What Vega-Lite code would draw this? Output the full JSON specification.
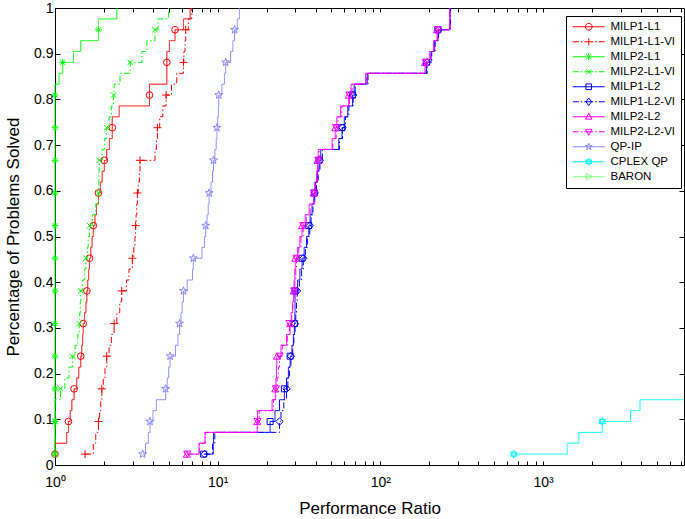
{
  "$schema": "https://vega.github.io/schema/vega-lite/v6.json",
  "width": 629,
  "height": 457,
  "autosize": {"type": "none"},
  "padding": {"left": 55, "top": 8, "right": 1, "bottom": 54},
  "background": "white",
  "config": {
    "view": {"stroke": null},
    "font": "Liberation Sans",
    "axis": {"grid": false, "domainColor": "black", "tickColor": "black", "labelColor": "black", "titleColor": "black", "labelFont": "Liberation Sans", "titleFont": "Liberation Sans", "labelFontSize": 14, "titleFontSize": 17, "titleFontWeight": "normal", "domainWidth": 1, "tickWidth": 1}
  },
  "data": {"values": [
    {"n":1,"p":0.0238,"MILP1-L1":1,"MILP1-L1-VI":1.53,"MILP2-L1":1,"MILP2-L1-VI":1,"MILP1-L2":8.2,"MILP1-L2-VI":8.3,"MILP2-L2":6.46,"MILP2-L2-VI":6.5,"QP-IP":3.46,"CPLEX QP":661},
    {"n":2,"p":0.0476,"MILP1-L1":1,"MILP1-L1-VI":1.72,"MILP2-L1":1,"MILP2-L1-VI":1,"MILP1-L2":9.4,"MILP1-L2-VI":9.3,"MILP2-L2":7.68,"MILP2-L2-VI":7.7,"QP-IP":3.6,"CPLEX QP":1408},
    {"n":3,"p":0.0714,"MILP1-L1":1.18,"MILP1-L1-VI":1.78,"MILP2-L1":1,"MILP2-L1-VI":1,"MILP1-L2":9.42,"MILP1-L2-VI":9.6,"MILP2-L2":8.35,"MILP2-L2-VI":8.4,"QP-IP":3.75,"CPLEX QP":1660},
    {"n":4,"p":0.0952,"MILP1-L1":1.21,"MILP1-L1-VI":1.85,"MILP2-L1":1,"MILP2-L1-VI":1,"MILP1-L2":21,"MILP1-L2-VI":24,"MILP2-L2":17.5,"MILP2-L2-VI":17.6,"QP-IP":3.84,"CPLEX QP":2312},
    {"n":5,"p":0.119,"MILP1-L1":1.24,"MILP1-L1-VI":1.88,"MILP2-L1":1,"MILP2-L1-VI":1,"MILP1-L2":22.5,"MILP1-L2-VI":24.5,"MILP2-L2":17.6,"MILP2-L2-VI":18,"QP-IP":4.0,"CPLEX QP":3450},
    {"n":6,"p":0.1429,"MILP1-L1":1.27,"MILP1-L1-VI":1.91,"MILP2-L1":1,"MILP2-L1-VI":1,"MILP1-L2":24,"MILP1-L2-VI":25.5,"MILP2-L2":21.6,"MILP2-L2-VI":22,"QP-IP":4.2,"CPLEX QP":3944},
    {"n":6,"p":0.1429,"CPLEX QP":7350},
    {"n":7,"p":0.1667,"MILP1-L1":1.31,"MILP1-L1-VI":1.94,"MILP2-L1":1,"MILP2-L1-VI":1.08,"MILP1-L2":25.7,"MILP1-L2-VI":26.5,"MILP2-L2":22.6,"MILP2-L2-VI":22.8,"QP-IP":4.79},
    {"n":8,"p":0.1905,"MILP1-L1":1.36,"MILP1-L1-VI":1.98,"MILP2-L1":1,"MILP2-L1-VI":1.15,"MILP1-L2":26.5,"MILP1-L2-VI":27,"MILP2-L2":22.8,"MILP2-L2-VI":23.2,"QP-IP":4.9},
    {"n":9,"p":0.2143,"MILP1-L1":1.4,"MILP1-L1-VI":2.03,"MILP2-L1":1,"MILP2-L1-VI":1.22,"MILP1-L2":27.2,"MILP1-L2-VI":27.6,"MILP2-L2":23,"MILP2-L2-VI":23.6,"QP-IP":5.0},
    {"n":10,"p":0.2381,"MILP1-L1":1.44,"MILP1-L1-VI":2.08,"MILP2-L1":1,"MILP2-L1-VI":1.28,"MILP1-L2":27.9,"MILP1-L2-VI":28.2,"MILP2-L2":23.1,"MILP2-L2-VI":24,"QP-IP":5.1},
    {"n":11,"p":0.2619,"MILP1-L1":1.46,"MILP1-L1-VI":2.15,"MILP2-L1":1,"MILP2-L1-VI":1.33,"MILP1-L2":28.6,"MILP1-L2-VI":28.9,"MILP2-L2":24.5,"MILP2-L2-VI":25,"QP-IP":5.5},
    {"n":12,"p":0.2857,"MILP1-L1":1.48,"MILP1-L1-VI":2.22,"MILP2-L1":1,"MILP2-L1-VI":1.38,"MILP1-L2":29.2,"MILP1-L2-VI":29.4,"MILP2-L2":26.5,"MILP2-L2-VI":26.8,"QP-IP":5.7},
    {"n":13,"p":0.3095,"MILP1-L1":1.49,"MILP1-L1-VI":2.31,"MILP2-L1":1,"MILP2-L1-VI":1.41,"MILP1-L2":29.6,"MILP1-L2-VI":29.9,"MILP2-L2":27.9,"MILP2-L2-VI":27.6,"QP-IP":5.83},
    {"n":14,"p":0.3333,"MILP1-L1":1.52,"MILP1-L1-VI":2.4,"MILP2-L1":1,"MILP2-L1-VI":1.42,"MILP1-L2":29.8,"MILP1-L2-VI":30.2,"MILP2-L2":28.3,"MILP2-L2-VI":28.5,"QP-IP":5.95},
    {"n":15,"p":0.3571,"MILP1-L1":1.55,"MILP1-L1-VI":2.5,"MILP2-L1":1,"MILP2-L1-VI":1.43,"MILP1-L2":29.9,"MILP1-L2-VI":30.5,"MILP2-L2":28.8,"MILP2-L2-VI":29,"QP-IP":6.05},
    {"n":16,"p":0.381,"MILP1-L1":1.57,"MILP1-L1-VI":2.57,"MILP2-L1":1,"MILP2-L1-VI":1.44,"MILP1-L2":29.9,"MILP1-L2-VI":30.8,"MILP2-L2":29.3,"MILP2-L2-VI":29.5,"QP-IP":6.16},
    {"n":17,"p":0.4048,"MILP1-L1":1.59,"MILP1-L1-VI":2.75,"MILP2-L1":1,"MILP2-L1-VI":1.48,"MILP1-L2":31,"MILP1-L2-VI":31.8,"MILP2-L2":29.5,"MILP2-L2-VI":29.8,"QP-IP":6.5},
    {"n":18,"p":0.4286,"MILP1-L1":1.61,"MILP1-L1-VI":2.85,"MILP2-L1":1,"MILP2-L1-VI":1.52,"MILP1-L2":32,"MILP1-L2-VI":32.8,"MILP2-L2":29.8,"MILP2-L2-VI":30.2,"QP-IP":7.0},
    {"n":19,"p":0.4524,"MILP1-L1":1.63,"MILP1-L1-VI":2.99,"MILP2-L1":1,"MILP2-L1-VI":1.55,"MILP1-L2":33,"MILP1-L2-VI":33.6,"MILP2-L2":30,"MILP2-L2-VI":30.5,"QP-IP":7.09},
    {"n":20,"p":0.4762,"MILP1-L1":1.66,"MILP1-L1-VI":3.05,"MILP2-L1":1,"MILP2-L1-VI":1.58,"MILP1-L2":34,"MILP1-L2-VI":34.6,"MILP2-L2":31,"MILP2-L2-VI":31.5,"QP-IP":8.0},
    {"n":21,"p":0.5,"MILP1-L1":1.69,"MILP1-L1-VI":3.1,"MILP2-L1":1,"MILP2-L1-VI":1.6,"MILP1-L2":35.2,"MILP1-L2-VI":35.6,"MILP2-L2":32,"MILP2-L2-VI":32.5,"QP-IP":8.3},
    {"n":22,"p":0.5238,"MILP1-L1":1.72,"MILP1-L1-VI":3.13,"MILP2-L1":1,"MILP2-L1-VI":1.63,"MILP1-L2":36.3,"MILP1-L2-VI":36.8,"MILP2-L2":33,"MILP2-L2-VI":33.5,"QP-IP":8.44},
    {"n":23,"p":0.5476,"MILP1-L1":1.76,"MILP1-L1-VI":3.15,"MILP2-L1":1,"MILP2-L1-VI":1.7,"MILP1-L2":37,"MILP1-L2-VI":37.5,"MILP2-L2":34.5,"MILP2-L2-VI":35,"QP-IP":8.6},
    {"n":24,"p":0.5714,"MILP1-L1":1.8,"MILP1-L1-VI":3.18,"MILP2-L1":1,"MILP2-L1-VI":1.78,"MILP1-L2":38,"MILP1-L2-VI":38.5,"MILP2-L2":36.5,"MILP2-L2-VI":37,"QP-IP":8.75},
    {"n":25,"p":0.5952,"MILP1-L1":1.85,"MILP1-L1-VI":3.21,"MILP2-L1":1,"MILP2-L1-VI":1.85,"MILP1-L2":39.2,"MILP1-L2-VI":39.5,"MILP2-L2":38.9,"MILP2-L2-VI":39.2,"QP-IP":8.86},
    {"n":26,"p":0.619,"MILP1-L1":1.9,"MILP1-L1-VI":3.25,"MILP2-L1":1,"MILP2-L1-VI":1.86,"MILP1-L2":40,"MILP1-L2-VI":40.5,"MILP2-L2":39.5,"MILP2-L2-VI":40,"QP-IP":9.1},
    {"n":27,"p":0.6429,"MILP1-L1":1.95,"MILP1-L1-VI":3.3,"MILP2-L1":1,"MILP2-L1-VI":1.86,"MILP1-L2":41,"MILP1-L2-VI":41.5,"MILP2-L2":40.5,"MILP2-L2-VI":41,"QP-IP":9.3},
    {"n":28,"p":0.6667,"MILP1-L1":2.01,"MILP1-L1-VI":3.33,"MILP2-L1":1,"MILP2-L1-VI":1.87,"MILP1-L2":42,"MILP1-L2-VI":42.5,"MILP2-L2":41.1,"MILP2-L2-VI":41.5,"QP-IP":9.43},
    {"n":29,"p":0.6905,"MILP1-L1":2.08,"MILP1-L1-VI":4.12,"MILP2-L1":1,"MILP2-L1-VI":1.95,"MILP1-L2":43,"MILP1-L2-VI":44,"MILP2-L2":41.5,"MILP2-L2-VI":42,"QP-IP":9.6},
    {"n":30,"p":0.7143,"MILP1-L1":2.16,"MILP1-L1-VI":4.2,"MILP2-L1":1,"MILP2-L1-VI":2.02,"MILP1-L2":55.5,"MILP1-L2-VI":56,"MILP2-L2":50.5,"MILP2-L2-VI":51,"QP-IP":9.8},
    {"n":31,"p":0.7381,"MILP1-L1":2.25,"MILP1-L1-VI":4.26,"MILP2-L1":1,"MILP2-L1-VI":2.08,"MILP1-L2":58.1,"MILP1-L2-VI":58.5,"MILP2-L2":52.8,"MILP2-L2-VI":53.5,"QP-IP":9.9},
    {"n":32,"p":0.7619,"MILP1-L1":2.25,"MILP1-L1-VI":4.4,"MILP2-L1":1,"MILP2-L1-VI":2.15,"MILP1-L2":60,"MILP1-L2-VI":61,"MILP2-L2":54,"MILP2-L2-VI":55,"QP-IP":10.0},
    {"n":33,"p":0.7857,"MILP1-L1":2.48,"MILP1-L1-VI":4.6,"MILP2-L1":1,"MILP2-L1-VI":2.22,"MILP1-L2":63,"MILP1-L2-VI":64,"MILP2-L2":57,"MILP2-L2-VI":58,"QP-IP":10.1},
    {"n":34,"p":0.8095,"MILP1-L1":3.81,"MILP1-L1-VI":4.82,"MILP2-L1":1,"MILP2-L1-VI":2.29,"MILP1-L2":67.5,"MILP1-L2-VI":68,"MILP2-L2":63.9,"MILP2-L2-VI":64.5,"QP-IP":10.15},
    {"n":35,"p":0.8333,"MILP1-L1":3.81,"MILP1-L1-VI":5.2,"MILP2-L1":1,"MILP2-L1-VI":2.31,"MILP1-L2":69,"MILP1-L2-VI":70,"MILP2-L2":66,"MILP2-L2-VI":67,"QP-IP":10.6},
    {"n":36,"p":0.8571,"MILP1-L1":4.87,"MILP1-L1-VI":5.6,"MILP2-L1":1.06,"MILP2-L1-VI":2.51,"MILP1-L2":83,"MILP1-L2-VI":84,"MILP2-L2":81.2,"MILP2-L2-VI":82,"QP-IP":11.0},
    {"n":37,"p":0.881,"MILP1-L1":4.87,"MILP1-L1-VI":6.16,"MILP2-L1":1.115,"MILP2-L1-VI":2.9,"MILP1-L2":192,"MILP1-L2-VI":194,"MILP2-L2":188,"MILP2-L2-VI":190,"QP-IP":11.2},
    {"n":38,"p":0.9048,"MILP1-L1":4.87,"MILP1-L1-VI":6.2,"MILP2-L1":1.3,"MILP2-L1-VI":3.42,"MILP1-L2":205,"MILP1-L2-VI":207,"MILP2-L2":200,"MILP2-L2-VI":203,"QP-IP":12.0},
    {"n":39,"p":0.9286,"MILP1-L1":5.05,"MILP1-L1-VI":6.3,"MILP2-L1":1.44,"MILP2-L1-VI":3.67,"MILP1-L2":215,"MILP1-L2-VI":217,"MILP2-L2":212,"MILP2-L2-VI":214,"QP-IP":12.4},
    {"n":40,"p":0.9524,"MILP1-L1":5.47,"MILP1-L1-VI":6.36,"MILP2-L1":1.85,"MILP2-L1-VI":4.12,"MILP1-L2":226,"MILP1-L2-VI":228,"MILP2-L2":223,"MILP2-L2-VI":225,"QP-IP":12.7},
    {"n":41,"p":0.9762,"MILP1-L1":6.16,"MILP1-L1-VI":6.6,"MILP2-L1":1.85,"MILP2-L1-VI":4.3,"MILP1-L2":268,"MILP1-L2-VI":270,"MILP2-L2":266,"MILP2-L2-VI":268,"QP-IP":13.2},
    {"n":42,"p":1,"MILP1-L1":6.77,"MILP1-L1-VI":6.93,"MILP2-L1":2.4,"MILP2-L1-VI":4.98,"MILP1-L2":268,"MILP1-L2-VI":270,"MILP2-L2":266,"MILP2-L2-VI":268,"QP-IP":13.6}
  ]},
  "transform": [
    {"fold": ["MILP1-L1","MILP1-L1-VI","MILP2-L1","MILP2-L1-VI","MILP1-L2","MILP1-L2-VI","MILP2-L2","MILP2-L2-VI","QP-IP","CPLEX QP"], "as": ["s", "r"]},
    {"filter": "isValid(datum.r)"}
  ],
  "layer": [
    {
      "mark": {"type": "line", "interpolate": "step-after", "strokeWidth": 1, "clip": false},
      "encoding": {
        "x": {"field": "r", "type": "quantitative", "scale": {"type": "log", "domain": [1, 7350], "nice": false},
          "axis": {"orient": "bottom", "title": "Performance Ratio", "values": [1,2,3,4,5,6,7,8,9,10,20,30,40,50,60,70,80,90,100,200,300,400,500,600,700,800,900,1000,2000,3000,4000,5000,6000,7000],
            "labelExpr": "datum.value==1?'10⁰':datum.value==10?'10¹':datum.value==100?'10²':datum.value==1000?'10³':''",
            "tickSize": -4,
            "labelFlush": false, "labelOverlap": false, "labelBound": false, "labelPadding": 14, "titlePadding": 11}},
        "y": {"field": "p", "type": "quantitative", "scale": {"domain": [0, 1], "nice": false},
          "axis": {"orient": "left", "title": "Percentage of Problems Solved", "values": [0,0.1,0.2,0.3,0.4,0.5,0.6,0.7,0.8,0.9,1], "format": "~g", "tickSize": -5, "labelPadding": 7, "titlePadding": 11}},
        "stroke": {"field": "s", "type": "nominal", "legend": null,
          "scale": {"domain": ["MILP1-L1","MILP1-L1-VI","MILP2-L1","MILP2-L1-VI","MILP1-L2","MILP1-L2-VI","MILP2-L2","MILP2-L2-VI","QP-IP","CPLEX QP"],
            "range": ["#ff0000","#ff0000","#00ff00","#00ff00","#0000ff","#0000ff","#ff00ff","#ff00ff","#8888ff","#00ffff"]}},
        "strokeDash": {"field": "s", "type": "nominal", "legend": null,
          "scale": {"domain": ["MILP1-L1","MILP1-L1-VI","MILP2-L1","MILP2-L1-VI","MILP1-L2","MILP1-L2-VI","MILP2-L2","MILP2-L2-VI","QP-IP","CPLEX QP"],
            "range": [[1,0],[6,2.5,1.5,2.5],[1,0],[6,2.5,1.5,2.5],[1,0],[6,2.5,1.5,2.5],[1,0],[6,2.5,1.5,2.5],[1,0],[1,0]]}},
        "order": {"field": "n", "type": "quantitative"}
      }
    },
    {"transform": [{"filter": "datum.s=='MILP1-L1' && datum.n%3==1"}], "mark": {"type": "point", "shape": "circle", "color": "#ff0000", "filled": false, "size": 45, "strokeWidth": 1, "opacity": 1, "clip": false},
      "encoding": {"x": {"field": "r", "type": "quantitative", "axis": null}, "y": {"field": "p", "type": "quantitative", "axis": null}}},
    {"transform": [{"filter": "datum.s=='MILP1-L1-VI' && datum.n%3==1"}], "mark": {"type": "point", "shape": "M-1,0H1M0,-1V1", "color": "#ff0000", "filled": false, "size": 64, "strokeWidth": 1, "opacity": 1, "clip": false},
      "encoding": {"x": {"field": "r", "type": "quantitative", "axis": null}, "y": {"field": "p", "type": "quantitative", "axis": null}}},
    {"transform": [{"filter": "datum.s=='MILP2-L1' && datum.n%3==1"}], "mark": {"type": "point", "shape": "M-1,0H1M0,-1V1M-0.7,-0.7L0.7,0.7M-0.7,0.7L0.7,-0.7", "color": "#00ff00", "filled": false, "size": 50, "strokeWidth": 1, "opacity": 1, "clip": false},
      "encoding": {"x": {"field": "r", "type": "quantitative", "axis": null}, "y": {"field": "p", "type": "quantitative", "axis": null}}},
    {"transform": [{"filter": "datum.s=='MILP2-L1-VI' && datum.n%3==1"}], "mark": {"type": "point", "shape": "M-0.7,-0.7L0.7,0.7M-0.7,0.7L0.7,-0.7", "color": "#00ff00", "filled": false, "size": 64, "strokeWidth": 1, "opacity": 1, "clip": false},
      "encoding": {"x": {"field": "r", "type": "quantitative", "axis": null}, "y": {"field": "p", "type": "quantitative", "axis": null}}},
    {"transform": [{"filter": "datum.s=='MILP1-L2' && datum.n%3==1"}], "mark": {"type": "point", "shape": "square", "color": "#0000ff", "filled": false, "size": 36, "strokeWidth": 1, "opacity": 1, "clip": false},
      "encoding": {"x": {"field": "r", "type": "quantitative", "axis": null}, "y": {"field": "p", "type": "quantitative", "axis": null}}},
    {"transform": [{"filter": "datum.s=='MILP1-L2-VI' && datum.n%3==1"}], "mark": {"type": "point", "shape": "diamond", "color": "#0000ff", "filled": false, "size": 55, "strokeWidth": 1, "opacity": 1, "clip": false},
      "encoding": {"x": {"field": "r", "type": "quantitative", "axis": null}, "y": {"field": "p", "type": "quantitative", "axis": null}}},
    {"transform": [{"filter": "datum.s=='MILP2-L2' && datum.n%3==1"}], "mark": {"type": "point", "shape": "triangle-up", "color": "#ff00ff", "filled": false, "size": 50, "strokeWidth": 1, "opacity": 1, "clip": false},
      "encoding": {"x": {"field": "r", "type": "quantitative", "axis": null}, "y": {"field": "p", "type": "quantitative", "axis": null}}},
    {"transform": [{"filter": "datum.s=='MILP2-L2-VI' && datum.n%3==1"}], "mark": {"type": "point", "shape": "triangle-down", "color": "#ff00ff", "filled": false, "size": 50, "strokeWidth": 1, "opacity": 1, "clip": false},
      "encoding": {"x": {"field": "r", "type": "quantitative", "axis": null}, "y": {"field": "p", "type": "quantitative", "axis": null}}},
    {"transform": [{"filter": "datum.s=='QP-IP' && datum.n%3==1"}], "mark": {"type": "point", "shape": "M0,-1L0.235,-0.324L0.951,-0.309L0.38,0.124L0.588,0.809L0,0.4L-0.588,0.809L-0.38,0.124L-0.951,-0.309L-0.235,-0.324Z", "color": "#8888ff", "filled": false, "size": 70, "strokeWidth": 1, "opacity": 1, "clip": false},
      "encoding": {"x": {"field": "r", "type": "quantitative", "axis": null}, "y": {"field": "p", "type": "quantitative", "axis": null}}},
    {"transform": [{"filter": "datum.s=='CPLEX QP' && datum.n%3==1 && datum.r<7000"}], "mark": {"type": "point", "shape": "M0,-1L0.866,0.5H-0.866ZM0,1L0.866,-0.5H-0.866Z", "color": "#00ffff", "filled": false, "size": 60, "strokeWidth": 1, "opacity": 1, "clip": false},
      "encoding": {"x": {"field": "r", "type": "quantitative", "axis": null}, "y": {"field": "p", "type": "quantitative", "axis": null}}},
    {
      "transform": [{"filter": "false"}],
      "mark": {"type": "point", "filled": false, "strokeWidth": 1, "opacity": 1},
      "encoding": {
        "x": {"field": "r", "type": "quantitative", "axis": {"orient": "top", "title": null, "labels": false, "values": [1,2,3,4,5,6,7,8,9,10,20,30,40,50,60,70,80,90,100,200,300,400,500,600,700,800,900,1000,2000,3000,4000,5000,6000,7000], "tickSize": -4}},
        "y": {"field": "p", "type": "quantitative", "axis": {"orient": "right", "title": null, "labels": false, "values": [0,0.1,0.2,0.3,0.4,0.5,0.6,0.7,0.8,0.9,1], "tickSize": -5}},
        "color": {"field": "s", "type": "nominal",
          "scale": {"domain": ["MILP1-L1","MILP1-L1-VI","MILP2-L1","MILP2-L1-VI","MILP1-L2","MILP1-L2-VI","MILP2-L2","MILP2-L2-VI","QP-IP","CPLEX QP","BARON"],
            "range": ["#ff0000","#ff0000","#00ff00","#00ff00","#0000ff","#0000ff","#ff00ff","#ff00ff","#8888ff","#00ffff","#80ff80"]},
          "legend": {"title": null, "orient": "none", "legendX": 511, "legendY": 8, "padding": 5, "strokeColor": "black", "fillColor": "white", "symbolSize": 64, "symbolStrokeWidth": 1, "labelFontSize": 11.5, "labelFont": "Liberation Sans", "labelColor": "black", "labelOffset": 28, "rowPadding": 2, "cornerRadius": 0}},
        "shape": {"field": "s", "type": "nominal",
          "scale": {"domain": ["MILP1-L1","MILP1-L1-VI","MILP2-L1","MILP2-L1-VI","MILP1-L2","MILP1-L2-VI","MILP2-L2","MILP2-L2-VI","QP-IP","CPLEX QP","BARON"],
            "range": [
              "M-1,0H7M3.85,0A0.85,0.85 0 1,1 2.15,0A0.85,0.85 0 1,1 3.85,0Z",
              "M-1,0H0.5M1,0H1.375M1.875,0H4.125M4.625,0H5M5.5,0H7M3,-0.9V0.9",
              "M-1,0H7M3,-0.9V0.9M2.35,-0.65L3.65,0.65M2.35,0.65L3.65,-0.65",
              "M-1,0H0.5M1,0H1.375M1.875,0H4.125M4.625,0H5M5.5,0H7M2.35,-0.65L3.65,0.65M2.35,0.65L3.65,-0.65",
              "M-1,0H7M2.3,-0.7H3.7V0.7H2.3Z",
              "M-1,0H0.5M1,0H1.375M1.875,0H4.125M4.625,0H5M5.5,0H7M3,-0.95L3.7,0L3,0.95L2.3,0Z",
              "M-1,0H7M3,-0.9L3.8,0.6H2.2Z",
              "M-1,0H0.5M1,0H1.375M1.875,0H4.125M4.625,0H5M5.5,0H7M3,0.9L3.8,-0.6H2.2Z",
              "M-1,0H7M3,-0.9L3.212,-0.291L3.856,-0.278L3.342,0.111L3.529,0.728L3,0.36L2.471,0.728L2.658,0.111L2.144,-0.278L2.788,-0.291Z",
              "M-1,0H7M3,-0.9L3.78,0.45H2.22ZM3,0.9L3.78,-0.45H2.22Z",
              "M-1,0H7M3.9,0L2.4,0.8V-0.8Z"
            ]}}
      }
    }
  ],
  "resolve": {"axis": {"x": "independent", "y": "independent"}}
}
